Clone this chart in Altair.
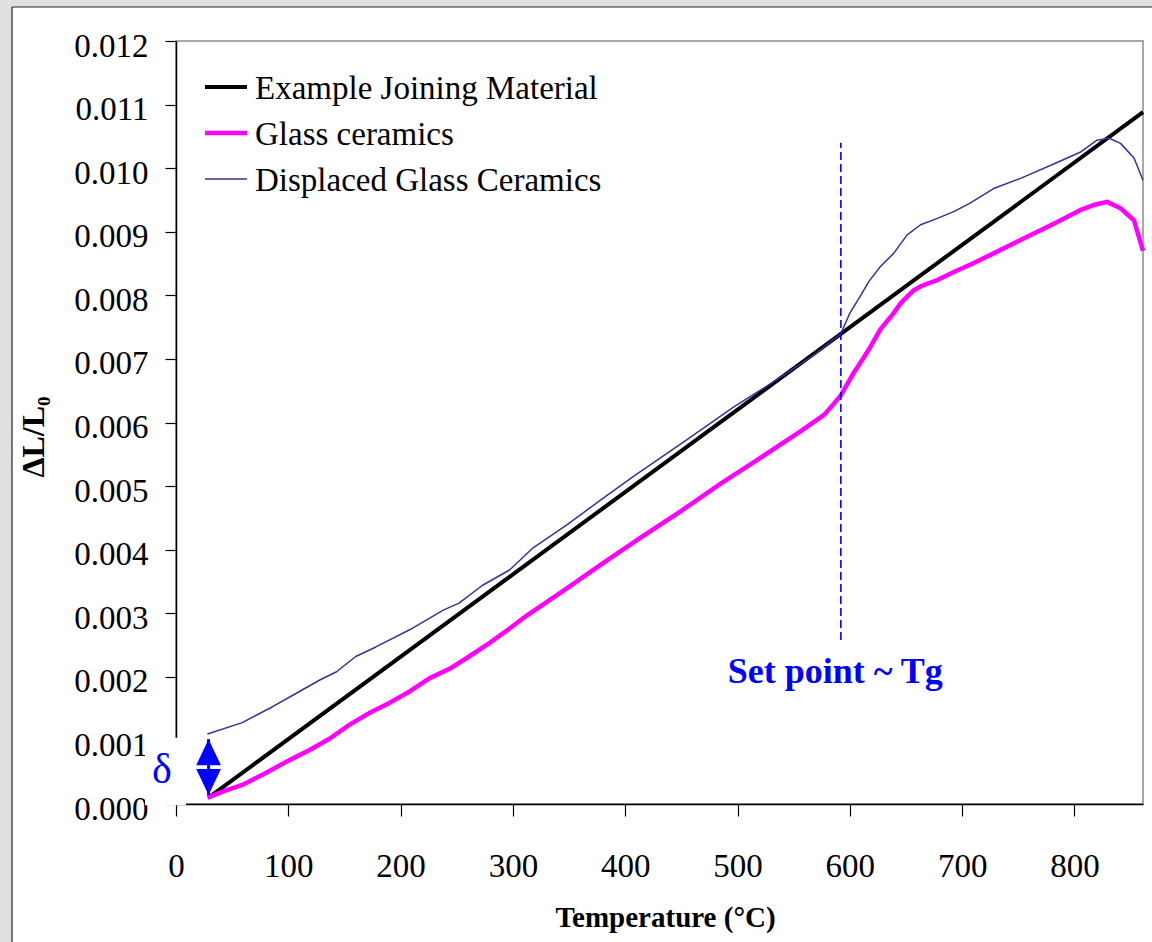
import altair as alt
import pandas as pd

# ---- data -------------------------------------------------------------
# Example joining material: linear thermal expansion
joining_T = [29, 861]
joining_dl = [0.00010, 0.01088]

# Glass ceramics dilatometer curve
glass_T = [28, 44, 59, 77, 101, 119, 137, 154, 172, 190, 208, 226, 244, 261,
           279, 297, 312, 348, 378, 413, 449, 485, 520, 556, 577, 586, 592,
           603, 612, 618, 627, 639, 645, 651, 657, 663, 670, 678, 693, 707,
           728, 752, 782, 805, 817, 829, 841, 853, 861]
glass_dl = [0.00010, 0.00021, 0.00030, 0.00046, 0.00069, 0.00085, 0.00103,
            0.00124, 0.00143, 0.00159, 0.00177, 0.00198, 0.00213, 0.00232,
            0.00253, 0.00276, 0.00296, 0.00339, 0.00376, 0.00418, 0.00460,
            0.00504, 0.00544, 0.00586, 0.00612, 0.00630, 0.00643, 0.00677,
            0.00701, 0.00718, 0.00746, 0.00772, 0.00787, 0.00798, 0.00808,
            0.00814, 0.00819, 0.00824, 0.00837, 0.00848, 0.00866, 0.00887,
            0.00913, 0.00934, 0.00942, 0.00947, 0.00937, 0.00918, 0.00870]

# Glass ceramics curve shifted up to meet the joining material at Tg
displaced_T = [28, 59, 86, 104, 128, 143, 160, 178, 208, 238, 252, 273, 297,
               318, 348, 378, 407, 455, 497, 532, 568, 592, 600, 609, 617,
               627, 639, 651, 663, 678, 693, 707, 728, 752, 782, 805, 820,
               831, 841, 853, 861]
displaced_dl = [0.00110, 0.00128, 0.00153, 0.00171, 0.00195, 0.00208, 0.00232,
                0.00247, 0.00274, 0.00305, 0.00316, 0.00344, 0.00368, 0.00403,
                0.00439, 0.00478, 0.00515, 0.00573, 0.00625, 0.00664, 0.00706,
                0.00740, 0.00772, 0.00798, 0.00822, 0.00845, 0.00866, 0.00895,
                0.00911, 0.00921, 0.00932, 0.00945, 0.00968, 0.00984, 0.01007,
                0.01025, 0.01044, 0.01047, 0.01039, 0.01016, 0.00981]

series_names = ["Example Joining Material", "Glass ceramics",
                "Displaced Glass Ceramics"]
series_colors = ["#000000", "#FF00FF", "#333399"]
series_widths = [4, 4.5, 1.5]

x_ticks = [0, 100, 200, 300, 400, 500, 600, 700, 800]
y_ticks = [0.000, 0.001, 0.002, 0.003, 0.004, 0.005, 0.006,
           0.007, 0.008, 0.009, 0.010, 0.011, 0.012]
x_domain = [0, 861]
y_domain = [0.0, 0.012]

# Set point annotation (dashed marker near Tg)
set_point_T = 592
set_point_span = [0.00258, 0.01040]
set_point_label = "Set point ~ Tg"
set_point_label_pos = [587, 0.00190]

# Offset arrow between the two glass-ceramic curves
delta_T = 29
delta_span = [0.00014, 0.00102]
delta_label = "δ"
delta_label_pos = [-12.5, 0.00033]
delta_box = [-27.6, 8.9, -0.00002, 0.00104]

x_title = "Temperature (°C)"
y_title = "ΔL/L₀"

# ---- layout -----------------------------------------------------------
W, H = 967, 763
PAD_L, PAD_T, PAD_R, PAD_B = 176, 41, 9, 138
SERIF = "Liberation Serif"
BLUE = "#0000FF"

x_axis = alt.Axis(values=x_ticks, title=None, grid=False, labelFontSize=33,
                  labelFont=SERIF, labelColor="black", tickSize=12,
                  labelPadding=34, domainColor="black", domainWidth=1.5,
                  tickColor="black", tickWidth=1.2, labelFlush=False)
y_axis = alt.Axis(values=y_ticks, title=None, grid=False, format=".3f",
                  labelFontSize=33, labelFont=SERIF, labelColor="black",
                  tickSize=11, labelPadding=17, labelOffset=5,
                  domainColor="black", domainWidth=1.5, tickColor="black",
                  tickWidth=1.2, labelFlush=False)


def xq(field):
    return alt.X(f"{field}:Q", scale=alt.Scale(domain=x_domain, nice=False,
                                               zero=False), axis=x_axis)


def yq(field):
    return alt.Y(f"{field}:Q", scale=alt.Scale(domain=y_domain, nice=False,
                                               zero=False), axis=y_axis)


one = pd.DataFrame({"k": [0]})

# outer frame: grey margin strips and black box edges
frame = [
    alt.Chart(one).mark_rect(color="#e0e0e0").encode(
        x=alt.value(-PAD_L), x2=alt.value(-PAD_L + 12),
        y=alt.value(-PAD_T), y2=alt.value(H + PAD_B)),
    alt.Chart(one).mark_rect(color="#e0e0e0").encode(
        x=alt.value(-PAD_L), x2=alt.value(W + PAD_R),
        y=alt.value(-PAD_T), y2=alt.value(-PAD_T + 7)),
    alt.Chart(one).mark_rule(color="#222222", strokeWidth=1.2).encode(
        x=alt.value(-PAD_L + 12), y=alt.value(-PAD_T + 7),
        y2=alt.value(H + PAD_B)),
    alt.Chart(one).mark_rule(color="#222222", strokeWidth=1.2).encode(
        x=alt.value(-PAD_L + 12), x2=alt.value(W + PAD_R),
        y=alt.value(-PAD_T + 7)),
]

joining_df = pd.DataFrame({"T": joining_T, "dl": joining_dl})
glass_df = pd.DataFrame({"T": glass_T, "dl": glass_dl})
displaced_df = pd.DataFrame({"T": displaced_T, "dl": displaced_dl})

lines = []
for df, color, width in zip([joining_df, glass_df, displaced_df],
                            series_colors, series_widths):
    lines.append(alt.Chart(df).mark_line(color=color, strokeWidth=width,
                                         strokeJoin="round").encode(
        x=xq("T"), y=yq("dl")))

# dashed set-point marker
sp_df = pd.DataFrame({"T": [set_point_T], "lo": [set_point_span[0]],
                      "hi": [set_point_span[1]]})
set_point_rule = alt.Chart(sp_df).mark_rule(
    color=BLUE, strokeWidth=1.6, strokeDash=[8, 4]).encode(
    x=xq("T"), y=yq("lo"), y2="hi:Q")

sp_lab_df = pd.DataFrame({"T": [set_point_label_pos[0]],
                          "v": [set_point_label_pos[1]],
                          "t": [set_point_label]})
set_point_text = alt.Chart(sp_lab_df).mark_text(
    font=SERIF, fontSize=36, fontWeight="bold", color=BLUE, align="center",
    baseline="alphabetic").encode(x=xq("T"), y=yq("v"), text="t:N")

# white patch behind the delta label
box_df = pd.DataFrame({"x0": [delta_box[0]], "x1": [delta_box[1]],
                       "y0": [delta_box[2]], "y1": [delta_box[3]]})
delta_patch = alt.Chart(box_df).mark_rect(color="white").encode(
    x=xq("x0"), x2="x1:Q", y=yq("y0"), y2="y1:Q")

# double-headed arrow
arr_df = pd.DataFrame({"T": [delta_T], "lo": [delta_span[0]],
                       "hi": [delta_span[1]]})
arrow_stem = alt.Chart(arr_df).mark_rule(color=BLUE, strokeWidth=3).encode(
    x=xq("T"), y=yq("lo"), y2="hi:Q")
arrow_up = alt.Chart(arr_df).mark_point(
    shape="M0,0L0.95,2L-0.95,2Z", filled=True, size=676, color=BLUE,
    opacity=1).encode(x=xq("T"), y=yq("hi"))
arrow_down = alt.Chart(arr_df).mark_point(
    shape="M0,0L0.95,-2L-0.95,-2Z", filled=True, size=676, color=BLUE,
    opacity=1).encode(x=xq("T"), y=yq("lo"))

d_lab_df = pd.DataFrame({"T": [delta_label_pos[0]], "v": [delta_label_pos[1]],
                         "t": [delta_label]})
delta_text = alt.Chart(d_lab_df).mark_text(
    font=SERIF, fontSize=42, color=BLUE, align="center",
    baseline="alphabetic").encode(x=xq("T"), y=yq("v"), text="t:N")

# axis titles
titles = [
    alt.Chart(one).mark_text(font=SERIF, fontSize=29, fontWeight="bold",
                             color="black", align="center",
                             baseline="alphabetic").encode(
        x=alt.value(489.5), y=alt.value(886), text=alt.value(x_title)),
    alt.Chart(one).mark_text(font=SERIF, fontSize=32, fontWeight="bold",
                             color="black", align="center", baseline="middle",
                             angle=270).encode(
        x=alt.value(-142), y=alt.value(396), text=alt.value(y_title)),
]

# legend
legend = []
for i, (name, color, width) in enumerate(zip(series_names, series_colors,
                                             series_widths)):
    ly = 46 + 46 * i
    legend.append(alt.Chart(one).mark_rule(color=color, strokeWidth=width).encode(
        x=alt.value(29), x2=alt.value(71), y=alt.value(ly)))
    legend.append(alt.Chart(one).mark_text(
        font=SERIF, fontSize=33, color="black", align="left",
        baseline="middle").encode(x=alt.value(79), y=alt.value(ly + 2),
                                  text=alt.value(name)))

chart = alt.layer(
    *frame, *lines, set_point_rule, set_point_text, delta_patch,
    arrow_stem, arrow_up, arrow_down, delta_text, *titles, *legend
).properties(
    width=W, height=H,
    autosize=alt.AutoSizeParams(type="none"),
    padding={"left": PAD_L, "top": PAD_T, "right": PAD_R, "bottom": PAD_B},
    background="white",
).configure_view(
    stroke="#8c8c8c", strokeWidth=1.5
)

chart.save("out.html", embed_options={"renderer": "svg", "actions": False})
